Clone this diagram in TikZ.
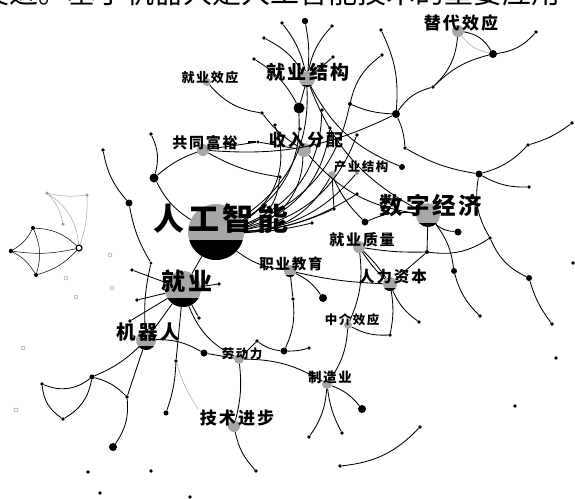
\documentclass[tikz,border=0pt]{standalone}
\usepackage{fontspec}
\newfontfamily\cjk{Noto Sans CJK SC}
\newfontfamily\cjklab[LetterSpace=12]{Noto Sans CJK SC}
\begin{document}
\begin{tikzpicture}[x=1pt,y=-1pt,
  e/.style={line width=0.85pt, black},
  th/.style={line width=0.5pt, black},
  gr/.style={line width=0.5pt, black!35},
  dot/.style={circle, fill=black, inner sep=0pt, minimum size=#1},
  hol/.style={circle, draw=black!45, line width=0.4pt, inner sep=0pt, minimum size=4pt},
  gdot/.style={circle, fill=black!40, inner sep=0pt, minimum size=#1},
  lab/.style={font=\cjklab\bfseries\fontsize{#1}{#1}\selectfont, inner sep=0pt},
]
\useasboundingbox (0,0) rectangle (575,498);
\newcommand\hub[5]{%
  \node[circle, fill=black!35, inner sep=0pt, minimum size={2*#4 pt}] (#1) at (#2,#3) {};
  \ifdim #5pt>0pt
    \begin{scope}\clip (#2,#3) circle[radius=#4pt];
      \fill[black] (#2-#4,#3+#4-#5) rectangle (#2+#4,#3+#4);
    \end{scope}
  \fi}
% cropped text line at top
\begin{scope}
\clip (0,0) rectangle (575,498);
\node[anchor=base west, inner sep=0pt, font=\cjk\fontsize{29}{29}\selectfont] (top) at (-20,3) {发进。基于机器人是人工智能技术的重要应用};
\end{scope}
% hubs
\hub{AI}{216}{232}{28}{20}
\hub{JY}{183}{289}{18}{9}
\hub{JQR}{146}{340}{10}{4}
\hub{SZJJ}{428}{215}{12}{4}
\hub{JYJG}{307}{79}{8}{2}
\hub{TDXY}{458}{31}{6}{0}
\hub{JYXY}{207}{82}{4}{0}
\hub{GTFY}{203}{150}{6}{0}
\hub{SRFP}{304}{150}{7}{0}
\hub{CYJG}{332}{175}{4}{0}
\hub{JYZL}{359}{247}{6}{0}
\hub{ZYJY}{290}{271}{6}{2}
\hub{RLZB}{390}{284}{7}{3}
\hub{ZJXY}{348}{325}{4}{0}
\hub{LDL}{239}{359}{5}{0}
\hub{ZZY}{327}{384}{5}{0}
\hub{JSJB}{234}{426}{6}{0}
% dots
\node[dot=3.6pt] (a1) at (264,38) {};
\node[dot=3.6pt] (a2) at (282,23) {};
\node[dot=6.4pt] (a3) at (305,21) {};
\node[dot=3.6pt] (a4) at (332,26) {};
\node[dot=3.6pt] (a5) at (381,30) {};
\node[dot=3.6pt] (a6) at (254,59) {};
\node[dot=3.6pt] (a7) at (333,57) {};
\node[dot=3.6pt] (a8) at (382,55) {};
\node[dot=11pt] (a9) at (299,108) {};
\node[dot=4pt] (a10) at (350,104) {};
\node[dot=8pt] (a11) at (396,114) {};
\node[dot=3.6pt] (a12) at (262,113) {};
\node[dot=3.6pt] (a13) at (275,125) {};
\node[dot=3.6pt] (a14) at (322,110) {};
\node[dot=3.6pt] (a15) at (300,129) {};
\node[dot=3.6pt] (a16) at (330,128) {};
\node[dot=3.6pt] (a17) at (357,135) {};
\node[dot=3.4pt] (a18) at (258,142) {};
\node[dot=3.6pt] (a19) at (151,134) {};
\node[dot=9pt] (a20) at (154,178) {};
\node[dot=3.6pt] (a21) at (103,150) {};
\node[dot=3.6pt] (a22) at (280,177) {};
\node[gdot=4pt] (a23) at (357,173) {};
\node[dot=7pt] (a24) at (129,203) {};
\node[dot=3.6pt] (a26) at (312,223) {};
\node[dot=3.6pt] (a27) at (357,194) {};
\node[dot=3.6pt] (a28) at (334,209) {};
\node[dot=7pt] (a29) at (365,222) {};
\node[dot=6pt] (a30) at (402,167) {};
\node[dot=3.6pt] (a31) at (405,148) {};
\node[dot=7pt] (a32) at (479,174) {};
\node[dot=3.6pt] (a33) at (528,145) {};
\node[dot=3.6pt] (a34) at (529,187) {};
\node[dot=3.6pt] (a35) at (572,123) {};
\node[dot=7pt] (a36) at (458,232) {};
\node[dot=3.6pt] (a37) at (490,238) {};
\node[dot=4pt] (a38) at (427,252) {};
\node[dot=6pt] (a39) at (454,271) {};
\node[dot=6pt] (a40) at (529,278) {};
\node[dot=3.6pt] (a41) at (480,316) {};
\node[dot=3.6pt] (a42) at (552,324) {};
\node[dot=3.6pt] (a43) at (419,322) {};
\node[dot=3.6pt] (a44) at (390,335) {};
\node[dot=3.6pt] (a45) at (573,263) {};
\node[dot=8pt] (a46) at (323,298) {};
\node[dot=3.6pt] (a47) at (293,299) {};
\node[dot=7pt] (a49) at (284,351) {};
\node[dot=3.6pt] (a50) at (309,348) {};
\node[dot=3.6pt] (a51) at (257,341) {};
\node[dot=7pt] (a52) at (204,353) {};
\node[dot=3.6pt] (a53) at (176,361) {};
\node[dot=3.6pt] (a54) at (219,284) {};
\node[dot=3.6pt] (a55) at (199,318) {};
\node[dot=3.6pt] (a56) at (132,270) {};
\node[dot=3.6pt] (a57) at (137,300) {};
\node[dot=3.6pt] (a58) at (130,321) {};
\node[dot=3pt] (a59) at (151,263) {};
\node[dot=5pt] (a60) at (92,377) {};
\node[dot=3.6pt] (a61) at (42,384) {};
\node[dot=3.6pt] (a62) at (63,419) {};
\node[dot=3.6pt] (a63) at (127,397) {};
\node[dot=8pt] (a64) at (113,447) {};
\node[dot=5pt] (a65) at (166,413) {};
\coordinate (a66) at (198,409);
\node[dot=3.6pt] (a67) at (88,472) {};
\node[dot=3.6pt] (a68) at (151,471) {};
\node[dot=3.6pt] (a69) at (100,493) {};
\node[dot=3.6pt] (a70) at (190,497) {};
\node[dot=3.6pt] (a71) at (256,471) {};
\node[dot=8pt] (a72) at (362,409) {};
\node[dot=3.6pt] (a73) at (309,437) {};
\node[dot=3.6pt] (a74) at (342,433) {};
\node[dot=3.6pt] (a75) at (420,427) {};
\node[dot=3.6pt] (a76) at (340,466) {};
\node[dot=3.6pt] (a77) at (515,406) {};
\node[dot=3.6pt] (a78) at (556,358) {};
\node[dot=8pt] (a80) at (493,54) {};
\node[dot=3.6pt] (a81) at (536,32) {};
\node[dot=3.6pt] (a82) at (433,87) {};
% left cluster
\node[dot=4pt] (B1) at (33,228) {};
\node[dot=4.5pt] (B2) at (11,251) {};
\node[dot=4pt] (B3) at (36,275) {};
\node[circle, draw=black, fill=white, line width=1.2pt, inner sep=0pt, minimum size=6pt] (R) at (79,248) {};
\node[gdot=3.5pt] (G1) at (47,193) {};
\node[gdot=3.5pt] (G2) at (87,195) {};
\node[gdot=3.5pt] (G3) at (63,224) {};
\node[hol] (h1) at (110,255) {};
\node[hol] (h2) at (66,278) {};
\node[hol] (h3) at (112,288) {};
\node[hol] (h4) at (76,297) {};
\node[hol] (h5) at (23,348) {};
\node[hol] (h6) at (16,410) {};
% ---- edges
% top fan
\draw[e] (a1) to[bend left=15] (JYJG);
\draw[e] (a2) to[bend left=12] (JYJG);
\draw[e] (a3) to[bend left=8] (JYJG);
\draw[e] (a4) to[bend right=15] (JYJG);
\draw[e] (a5) to[bend left=15] (a11);
\draw[e] (a6) to[bend left=15] (a9);
\draw[e] (a7) to (JYJG);
\draw[e] (a8) to[bend right=20] (a10);
\draw[e] (a10) to[bend right=10] (a11);
\draw[e] (JYJG) to (a9);
% AI fan (from the top of the big circle)
\draw[e] (AI) to[bend right=32] (a9);
\draw[e] (AI) to[bend right=30] (JYJG);
\draw[e] (AI) to[bend right=38] (SRFP);
\draw[e] (AI) to[bend right=40] (a13);
\draw[e] (AI) to[bend right=34] (a14);
\draw[e] (AI) to[bend right=34] (a16);
\draw[e] (AI) to[bend right=30] (a17);
\draw[e] (AI) to[bend right=30] (a10);
\draw[e] (AI) to[bend right=28] (CYJG);
\draw[e] (AI) to[bend right=32] (a22);
\draw[e] (AI) to[bend right=22] (a23);
\draw[e] (AI) to[bend right=14] (a27);
\draw[e] (AI) to[bend right=10] (a28);
\draw[e] (AI) to[bend right=6] (a26);
\draw[e] (AI) to[bend right=15] (ZYJY);
\draw[e] (JY) to (AI);
\draw[e] (a20) to[bend right=15] (AI);
% GTFY
\draw[e] (a20) to[bend left=10] (GTFY);
\draw[e] (a19) to[bend left=20] (a20);
\draw[e] (GTFY) to (a18);
\draw[line width=1.8pt] (a18) -- ++(-10,0);
\draw[e] (a18) to (SRFP);
\draw[e] (GTFY) to[bend right=15] (a11);
\draw[e] (GTFY) to[bend right=10] (a22);
\draw[e] (JYXY) to[bend right=20] (a12);
\draw[e] (a12) to[bend right=10] (SRFP);
\draw[e] (a21) to[bend right=15] (a24);
\draw[e] (a24) to[bend right=10] (a59);
\draw[e] (a59) to[bend right=8] (JQR);
% JY
\draw[e] (JY) to (a56);
\draw[e] (JY) to (a57);
\draw[e] (JY) to (a58);
\draw[e] (JY) to (a55);
\draw[e] (JY) to (a54);
\draw[e] (JY) to (JQR);
\draw[e] (JY) to[bend right=20] (LDL);
\draw[e] (JY) to (a53);
\draw[gr] (a53) to[bend right=8] (a66);
\draw[e] (a53) to[bend left=8] (a65);
% JQR
\draw[e] (JQR) to[bend left=15] (a52);
\draw[e] (a52) to (LDL);
\draw[e] (JQR) to[bend left=10] (a60);
\draw[e] (a60) to[bend left=30] (a61);
\draw[e] (a61) to[bend right=25] (a62);
\draw[e] (a60) to[bend left=25] (a62);
\draw[e] (a60) to[bend left=15] (a63);
\draw[e] (JQR) to (a63);
\draw[e] (a63) to[bend left=20] (a64);
% LDL
\draw[e] (LDL) to (a51);
\draw[e] (a51) to[bend right=15] (a49);
\draw[e] (a49) to[bend right=8] (a50);
\draw[e] (a49) to[bend right=15] (a47);
\draw[e] (LDL) to[bend left=15] (ZZY);
\draw[e] (LDL) to[bend left=10] (JSJB);
\draw[e] (JSJB) to[bend right=15] (a71);
% ZYJY
\draw[e] (ZYJY) to[bend left=15] (a46);
\draw[e] (ZYJY) to (a47);
\draw[e] (ZYJY) to[bend right=5] (RLZB);
% JYZL
\draw[e] (JYZL) to[bend left=6] (RLZB);
\draw[e] (JYZL) to[bend right=6] (RLZB);
\draw[e] (JYZL) to[bend right=5] (a38);
\draw[e] (JYZL) to[bend left=15] (ZJXY);
\draw[e] (CYJG) to (a28);
\draw[e] (a29) to[bend left=10] (CYJG);
% RLZB
\draw[e] (RLZB) to (a38);
\draw[e] (RLZB) to[bend right=15] (a43);
\draw[e] (RLZB) to[bend left=10] (a44);
\draw[e] (ZJXY) to[bend right=15] (a44);
\draw[e] (ZJXY) to[bend left=15] (ZZY);
% ZZY
\draw[e] (ZZY) to[bend left=15] (a72);
\draw[e] (ZZY) to[bend left=15] (a73);
\draw[e] (ZZY) to[bend right=10] (a74);
\draw[e] (a76) to[bend right=20] (a75);
% SZJJ
\draw[e] (SZJJ) to[bend right=20] (a36);
\draw[e] (SZJJ) to (a38);
\draw[e] (SZJJ) to[bend left=15] (a39);
\draw[e] (SZJJ) to[bend right=15] (a29);
\draw[e] (a39) to[bend right=15] (a41);
\draw[e] (a38) to[bend right=20] (a37);
\draw[e] (a37) to[bend right=20] (a40);
\draw[e] (a32) to[bend right=20] (a37);
\draw[e] (a40) to[bend right=10] (a42);
\draw[e] (a32) to[bend right=15] (a33);
\draw[e] (a33) to[bend right=10] (a35);
\draw[e] (a32) to[bend right=15] (a34);
\draw[e] (a31) to[bend right=10] (a32);
\draw[e] (a11) to[bend left=10] (a31);
\draw[e] (a11) to[bend left=20] (a82);
\draw[e] (a82) to[bend right=20] (TDXY);
\draw[e] (TDXY) to[bend left=25] (a80);
\draw[gr] (TDXY) to[bend right=20] (a80);
\draw[e] (a80) to[bend right=20] (a81);
\draw[e] (a80) to[bend right=15] (a82);
\draw[e] (SRFP) to[bend right=20] (SZJJ);
\draw[e] (JYJG) to[bend right=20] (SZJJ);
\draw[e] (JYJG) to[bend right=20] (a30);
% left cluster
\draw[th] (B2) to[bend right=15] (B1);
\draw[th] (B1) to[bend left=20] (R);
\draw[th] (B2) to[bend right=10] (R);
\draw[th] (B2) to[bend left=15] (B3);
\draw[th] (B3) to[bend right=15] (R);
\draw[th] (B1) to[bend left=20] (B3);
\draw[gr] (G1) to[bend right=10] (G2);
\draw[gr] (G1) to[bend left=15] (G3);
\draw[gr] (G2) to[bend left=10] (R);
\draw[gr] (G1) to[bend left=25] (R);
% labels
\node[lab=31] (AIl) at (221,219) {人工智能};
\node[lab=24] (JYl) at (187,281) {就业};
\node[lab=19.5] (JQRl) at (148,332) {机器人};
\node[lab=23.5] (SZJJl) at (431,206) {数字经济};
\node[lab=19] (JYJGl) at (308,72) {就业结构};
\node[lab=17] (TDXYl) at (461,23) {替代效应};
\node[lab=13] (JYXYl) at (210,78) {就业效应};
\node[lab=15] (GTFYl) at (205,143) {共同富裕};
\node[lab=17] (SRFPl) at (306,140) {收入分配};
\node[lab=12.5] (CYJGl) at (361,167) {产业结构};
\node[lab=15] (JYZLl) at (362,240) {就业质量};
\node[lab=14.5] (ZYJYl) at (291,264) {职业教育};
\node[lab=15.5] (RLZBl) at (393,277) {人力资本};
\node[lab=12.5] (ZJXYl) at (352,320) {中介效应};
\node[lab=12.5] (LDLl) at (242,354) {劳动力};
\node[lab=13.5] (ZZYl) at (330,377) {制造业};
\node[lab=17] (JSJBl) at (237,418) {技术进步};
\end{tikzpicture}
\end{document}
